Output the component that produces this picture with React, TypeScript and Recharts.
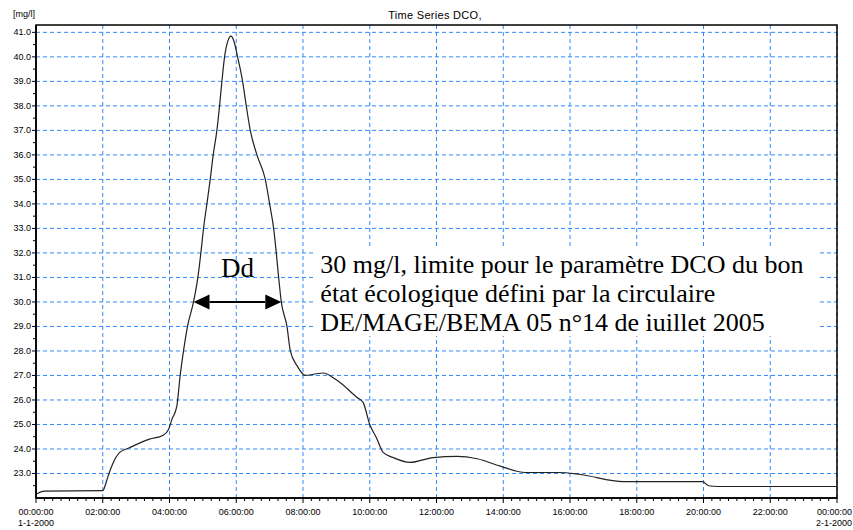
import React from "react"
import {
  LineChart,
  Line,
  XAxis,
  YAxis,
  CartesianGrid,
  ReferenceArea,
  ReferenceLine,
} from "recharts"

// DCO concentration [mg/l] over one day
const hours = [
  0, 0.25, 2.0, 2.07, 2.15, 2.3, 2.5, 2.8, 3.4, 3.8,
  3.97, 4.07, 4.22, 4.32, 4.42, 4.54, 4.72, 4.85, 4.94, 5.02,
  5.12, 5.22, 5.31, 5.42, 5.5, 5.57, 5.65, 5.75, 5.84, 5.93,
  6.04, 6.19, 6.3, 6.42, 6.62, 6.87, 7.0, 7.12, 7.2, 7.27,
  7.35, 7.52, 7.62, 7.82, 8.07, 8.32, 8.6, 9.02, 9.62, 9.8,
  10.0, 10.22, 10.31, 10.4, 10.7, 11.21, 11.9, 12.62, 13.22, 13.91,
  14.66, 15.65, 16.31, 17.6, 19.97, 20.15, 20.45, 24,
]
const dco = [
  22.15, 22.28, 22.3, 22.5, 22.85, 23.4, 23.85, 24.05, 24.4, 24.55,
  24.8, 25.2, 25.75, 27.0, 28.0, 29.0, 30.0, 31.0, 32.0, 33.0,
  34.0, 35.0, 36.0, 37.0, 38.0, 39.0, 40.0, 40.65, 40.85, 40.65,
  40.0, 39.0, 38.0, 37.0, 36.0, 35.0, 34.0, 33.0, 32.0, 31.0,
  30.0, 29.0, 28.0, 27.4, 27.0, 27.05, 27.1, 26.8, 26.1, 25.9,
  25.0, 24.4, 24.1, 23.86, 23.65, 23.45, 23.65, 23.7, 23.6, 23.3,
  23.04, 23.04, 22.96, 22.67, 22.67, 22.5, 22.47, 22.47,
]

const xMajorHours = [0, 2, 4, 6, 8, 10, 12, 14, 16, 18, 20, 22, 24]
const xMajorLabels = [
  "00:00:00", "02:00:00", "04:00:00", "06:00:00", "08:00:00", "10:00:00",
  "12:00:00", "14:00:00", "16:00:00", "18:00:00", "20:00:00", "22:00:00",
  "00:00:00",
]
const dateHours = [0, 24]
const dateLabels = ["1-1-2000", "2-1-2000"]

const yMajor = [23, 24, 25, 26, 27, 28, 29, 30, 31, 32, 33, 34, 35, 36, 37, 38, 39, 40, 41]

// Dd: duration above the 30 mg/l limit
const ddStart = 4.72
const ddEnd = 7.35
const limit = 30

const noteLines = [
  "30 mg/l, limite pour le paramètre DCO du bon",
  "état écologique défini par la circulaire",
  "DE/MAGE/BEMA 05 n°14 de iuillet 2005",
]

const data = hours.map((h, i) => ({ h, dco: dco[i] }))

// quarter-hour and half-unit minor ticks
const xTicks = Array.from({ length: 24 * 4 + 1 }, (_, i) => i / 4)
const yTicks = Array.from({ length: 38 }, (_, i) => 22.5 + i / 2)

const tickFont = "'Liberation Sans', Arial, sans-serif"
const serif = "'Liberation Serif', 'Times New Roman', serif"
const gridBlue = "#2e8bff"

function XTick({ x, y, payload }: any) {
  const v = payload.value
  const idx = xMajorHours.indexOf(v)
  const dIdx = dateHours.indexOf(v)
  // the last label sits on the right edge, keep it inside the picture
  const last = v === xMajorHours[xMajorHours.length - 1]
  const tx = last ? x + 15 : x
  const anchor = last ? "end" : "middle"
  return (
    <g>
      <line x1={x} x2={x} y1={y} y2={y + (idx >= 0 ? 5 : 3)} stroke="#000" />
      {idx >= 0 && (
        <text x={tx} y={y + 17} textAnchor={anchor} fontSize={9} fontFamily={tickFont} fill="#000">
          {xMajorLabels[idx]}
        </text>
      )}
      {dIdx >= 0 && (
        <text x={tx} y={y + 28} textAnchor={anchor} fontSize={9} fontFamily={tickFont} fill="#000">
          {dateLabels[dIdx]}
        </text>
      )}
    </g>
  )
}

function YTick({ x, y, payload }: any) {
  const v = payload.value
  const major = yMajor.includes(v)
  return (
    <g>
      <line x1={x - (major ? 4 : 3)} x2={x} y1={y} y2={y} stroke="#000" />
      {major && (
        <text x={x - 5} y={y + 3} textAnchor="end" fontSize={9} fontFamily={tickFont} fill="#000">
          {v.toFixed(1)}
        </text>
      )}
    </g>
  )
}

function NoteText(props: any) {
  const vb = props.viewBox
  return (
    <g>
      {noteLines.map((t, i) => (
        <text
          key={i}
          x={vb.x + 7}
          y={vb.y + 26 + i * 29}
          fontSize={26}
          fontFamily={serif}
          fill="#000"
        >
          {t}
        </text>
      ))}
    </g>
  )
}

function DdArrow(props: any) {
  const { x1, x2, y1 } = props
  const head = 16
  const half = 7.5
  return (
    <g>
      <line x1={x1 + head} x2={x2 - head} y1={y1} y2={y1} stroke="#000" strokeWidth={2} />
      <polygon points={`${x1},${y1} ${x1 + head},${y1 - half} ${x1 + head},${y1 + half}`} fill="#000" />
      <polygon points={`${x2},${y1} ${x2 - head},${y1 - half} ${x2 - head},${y1 + half}`} fill="#000" />
      <text x={(x1 + x2) / 2} y={y1 - 25} textAnchor="middle" fontSize={27} fontFamily={serif} fill="#000">
        Dd
      </text>
    </g>
  )
}

export default function App() {
  return (
    <div style={{ position: "absolute", left: 0, top: 0, width: 853, height: 530, background: "#fff" }}>
      <div
        style={{
          position: "absolute",
          left: 13,
          top: 9,
          fontSize: 9,
          lineHeight: "10px",
          fontFamily: tickFont,
        }}
      >
        [mg/l]
      </div>
      <div
        style={{
          position: "absolute",
          left: 335,
          width: 200,
          top: 9,
          textAlign: "center",
          fontSize: 11,
          lineHeight: "12px",
          letterSpacing: 0.3,
          fontFamily: tickFont,
        }}
      >
        Time Series DCO,
      </div>
      <LineChart
        width={853}
        height={530}
        data={data}
        margin={{ top: 25, right: 16, left: 0, bottom: 0 }}
      >
        <CartesianGrid
          stroke={gridBlue}
          strokeDasharray="4 3"
          horizontalValues={yMajor}
          verticalValues={xMajorHours}
        />
        <XAxis
          dataKey="h"
          type="number"
          domain={[0, 24]}
          ticks={xTicks}
          interval={0}
          height={32}
          tickSize={0}
          tickMargin={0}
          tick={<XTick />}
          axisLine={{ stroke: "#000", strokeWidth: 1.5 }}
          allowDataOverflow
        />
        <YAxis
          type="number"
          domain={[22, 41.3]}
          ticks={yTicks}
          interval={0}
          width={36}
          tickSize={0}
          tickMargin={0}
          tick={<YTick />}
          axisLine={{ stroke: "#000", strokeWidth: 1.5 }}
          allowDataOverflow
        />
        <ReferenceArea
          x1={8.31}
          x2={23.42}
          y1={28.61}
          y2={32.24}
          fill="#fff"
          fillOpacity={1}
          stroke="none"
          label={(p: any) => <NoteText {...p} />}
        />
        <ReferenceArea
          x1={0}
          x2={24}
          y1={22}
          y2={41.3}
          fill="none"
          stroke="#000"
          strokeWidth={1.5}
        />
        <Line
          type="monotone"
          dataKey="dco"
          stroke="#222"
          strokeWidth={1.2}
          dot={false}
          isAnimationActive={false}
        />
        <ReferenceLine
          segment={[
            { x: ddStart, y: limit },
            { x: ddEnd, y: limit },
          ]}
          shape={(p: any) => <DdArrow {...p} />}
        />
      </LineChart>
    </div>
  )
}
